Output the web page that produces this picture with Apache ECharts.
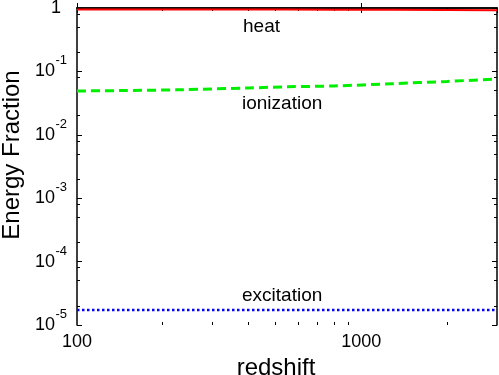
<!DOCTYPE html>
<html>
<head>
<meta charset="utf-8">
<script src="https://cdn.jsdelivr.net/npm/echarts@6/dist/echarts.min.js"></script>
<style>
  html, body { margin: 0; padding: 0; background: #fff; }
  #chart { width: 499px; height: 375px; }
</style>
</head>
<body>
<div id="chart"></div>
<script>
  // values
  const redshift = [100, 140, 233, 400, 550, 800, 1285, 2000, 3000]
  const heat = [0.951, 0.950, 0.949, 0.945, 0.943, 0.941, 0.936, 0.930, 0.924]
  const ionization = [0.0491, 0.0498, 0.0514, 0.0548, 0.0572, 0.0589, 0.0640, 0.0695, 0.0759]
  const excitation = [1.73e-5, 1.73e-5, 1.73e-5, 1.73e-5, 1.73e-5, 1.73e-5, 1.73e-5, 1.73e-5, 1.73e-5]

  const xMinor = [200, 300, 400, 500, 600, 700, 800, 900, 2000]
  const yMinorMant = [2, 5, 8]
  const yExponents = [-5, -4, -3, -2, -1]
  const curveNames = ['heat', 'ionization', 'excitation']

  const font = 'Liberation Sans, Arial, Helvetica, sans-serif'
  const black = '#000'

  let yMinor = []
  for (let e = -5; e < 0; ++e) {
    yMinorMant.forEach((m) => { yMinor.push(Math.log10(m) + e) })
  }

  const pair = (ys) => redshift.map((x, i) => [x, ys[i]])

  const frameLine = { show: true, lineStyle: { color: black, width: 1.5 } }
  const majorTick = { show: true, inside: true, length: 5, lineStyle: { color: black, width: 1 } }
  const minorTick = (vals) => ({ show: true, inside: true, length: 3, customValues: vals, lineStyle: { color: black, width: 1 } })
  const off = { show: false }

  const chart = echarts.init(document.getElementById('chart'), null, { renderer: 'canvas' })

  chart.setOption({
    animation: false,
    backgroundColor: '#fff',
    grid: { left: 77, right: 2, top: 8, bottom: 50, containLabel: false, outerBoundsMode: 'none' },
    xAxis: [
      {
        type: 'log', min: 100, max: 3000, position: 'bottom',
        axisLine: frameLine, axisTick: majorTick, splitLine: off,
        axisLabel: {
          color: black, fontSize: 18, fontFamily: font, margin: 8,
          showMaxLabel: false,
          formatter: (v) => {
            const n = Math.log10(v)
            return Math.abs(n - Math.round(n)) < 1e-6 ? String(Math.round(v)) : ''
          }
        },
        name: 'redshift', nameLocation: 'middle', nameGap: 31,
        nameTextStyle: { color: black, fontSize: 24, fontFamily: font, padding: [0, 22, 0, 0] }
      },
      { type: 'log', min: 100, max: 3000, position: 'top', axisLine: frameLine, axisTick: majorTick, axisLabel: off, splitLine: off },
      { type: 'value', min: 2, max: Math.log10(3000), position: 'bottom', axisLine: off, axisTick: minorTick(xMinor.map(Math.log10)), axisLabel: off, splitLine: off },
      { type: 'value', min: 2, max: Math.log10(3000), position: 'top', axisLine: off, axisTick: minorTick(xMinor.map(Math.log10)), axisLabel: off, splitLine: off }
    ],
    yAxis: [
      {
        type: 'log', min: 1e-5, max: 1, position: 'left',
        axisLine: frameLine, axisTick: majorTick, splitLine: off,
        axisLabel: {
          color: black, fontFamily: font, margin: 16,
          formatter: (v) => Math.round(Math.log10(v)) === 0 ? '{o|1}' : '{b|10}',
          rich: {
            o: { fontSize: 18, fontFamily: font, color: black },
            b: { fontSize: 18, fontFamily: font, color: black, padding: [0, 6, 0, 0] }
          }
        },
        name: 'Energy Fraction', nameLocation: 'middle', nameGap: 51,
        nameTextStyle: { color: black, fontSize: 24, fontFamily: font, padding: [0, 0, 0, 23] }
      },
      { type: 'log', min: 1e-5, max: 1, position: 'right', axisLine: frameLine, axisTick: majorTick, axisLabel: off, splitLine: off },
      {
        // exponents of the left labels, and the minor ticks
        type: 'value', min: -5, max: 0, position: 'left', axisLine: off, axisTick: minorTick(yMinor), splitLine: off,
        axisLabel: {
          show: true, customValues: yExponents, margin: 10,
          color: black, fontSize: 13, fontFamily: font,
          verticalAlign: 'bottom', padding: [0, 0, 4, 0],
          formatter: (v) => String(v)
        }
      },
      { type: 'value', min: -5, max: 0, position: 'right', axisLine: off, axisTick: minorTick(yMinor), axisLabel: off, splitLine: off }
    ],
    series: [
      {
        name: curveNames[0], type: 'line', data: pair(heat), showSymbol: false,
        lineStyle: { color: '#ff0000', width: 2 }, z: 1
      },
      {
        name: curveNames[1], type: 'line', data: pair(ionization), showSymbol: false, smooth: 0.3,
        lineStyle: { color: '#00ee00', width: 3, type: [9, 5] }
      },
      {
        name: curveNames[2], type: 'line', data: pair(excitation), showSymbol: false,
        lineStyle: { color: '#0000ff', width: 2.5, type: [2.5, 2.5] }
      }
    ],
    graphic: [
      { type: 'text', left: 243, top: 17, style: { text: curveNames[0], font: '19px ' + font, fill: black } },
      { type: 'text', left: 242, top: 94, style: { text: curveNames[1], font: '19px ' + font, fill: black } },
      { type: 'text', left: 242, top: 286, style: { text: curveNames[2], font: '19px ' + font, fill: black } }
    ]
  })
</script>
</body>
</html>
